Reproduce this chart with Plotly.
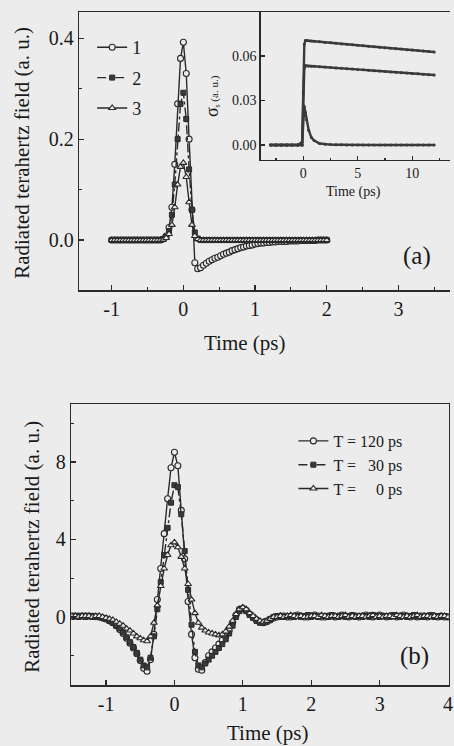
import numpy as np
import plotly.graph_objects as go

W, H = 454, 746
BG = "#ececec"
INK = "#2a2a2a"
FONT = "Liberation Serif, Times New Roman, serif"

# ---------------- Panel (a) data ----------------
t_a = np.round(np.arange(-1.0, 2.0001, 0.04), 2)
a_curve1 = [0.0, 0.0, 0.0, 0.0, 0.0, 0.0, 0.0, 0.0, 0.0, 0.0,
            0.0, 0.0, 0.0, 0.0, 0.0, 0.0, 0.0, 0.0,
            0.002, 0.008, 0.025, 0.065, 0.150, 0.270, 0.360, 0.392, 0.330, 0.200,
            0.060, -0.045, -0.057, -0.055, -0.050, -0.046, -0.042, -0.039, -0.036, -0.034,
            -0.031, -0.028, -0.026, -0.024, -0.021, -0.019, -0.017, -0.015, -0.014, -0.012,
            -0.011, -0.010, -0.008, -0.007, -0.006, -0.006, -0.005, -0.005, -0.004, -0.004,
            -0.003, -0.003, -0.003, -0.003, -0.002, -0.002, -0.002, -0.002, -0.001, -0.001,
            -0.001, -0.001, -0.001, -0.001, 0.0, 0.0, 0.0, 0.0]
a_curve2 = [0.0, 0.0, 0.0, 0.0, 0.0, 0.0, 0.0, 0.0, 0.0, 0.0,
            0.0, 0.0, 0.0, 0.0, 0.0, 0.0, 0.0, 0.0,
            0.002, 0.006, 0.018, 0.050, 0.110, 0.200, 0.270, 0.292, 0.240, 0.140,
            0.060, 0.015, 0.003,
            0.0, 0.0, 0.0, 0.0, 0.0, 0.0, 0.0, 0.0, 0.0, 0.0,
            0.0, 0.0, 0.0, 0.0, 0.0, 0.0, 0.0, 0.0, 0.0, 0.0,
            0.0, 0.0, 0.0, 0.0, 0.0, 0.0, 0.0, 0.0, 0.0, 0.0,
            0.0, 0.0, 0.0, 0.0, 0.0, 0.0, 0.0, 0.0, 0.0, 0.0,
            0.0, 0.0, 0.0, 0.0, 0.0]
a_curve3 = [0.0, 0.0, 0.0, 0.0, 0.0, 0.0, 0.0, 0.0, 0.0, 0.0,
            0.0, 0.0, 0.0, 0.0, 0.0, 0.0, 0.0, 0.0,
            0.001, 0.004, 0.012, 0.030, 0.065, 0.110, 0.145, 0.153, 0.125, 0.075,
            0.030, 0.008, 0.002,
            0.0, 0.0, 0.0, 0.0, 0.0, 0.0, 0.0, 0.0, 0.0, 0.0,
            0.0, 0.0, 0.0, 0.0, 0.0, 0.0, 0.0, 0.0, 0.0, 0.0,
            0.0, 0.0, 0.0, 0.0, 0.0, 0.0, 0.0, 0.0, 0.0, 0.0,
            0.0, 0.0, 0.0, 0.0, 0.0, 0.0, 0.0, 0.0, 0.0, 0.0,
            0.0, 0.0, 0.0, 0.0, 0.0]
a_names = ["1", "2", "3"]

# ---------------- Inset data ----------------
inset_t = [-3.0, -2.5, -2.0, -1.5, -1.0, -0.5, -0.1, 0.0, 0.1, 0.2, 0.3, 0.5, 0.75, 1.0,
           1.5, 2.0, 2.5, 3.0, 3.5, 4.0, 4.5, 5.0, 5.5, 6.0, 6.5, 7.0, 7.5, 8.0, 8.5,
           9.0, 9.5, 10.0, 10.5, 11.0, 11.5, 12.0]
inset_upper = [0.0, 0.0, 0.0, 0.0, 0.0, 0.0, 0.0, 0.035, 0.068, 0.0705, 0.0705, 0.0703,
               0.0702, 0.0700, 0.0696, 0.0692, 0.0689, 0.0686, 0.0682, 0.0679, 0.0676,
               0.0673, 0.0669, 0.0666, 0.0663, 0.0660, 0.0656, 0.0653, 0.0650, 0.0647,
               0.0643, 0.0640, 0.0637, 0.0634, 0.0630, 0.0627]
inset_middle = [0.0, 0.0, 0.0, 0.0, 0.0, 0.0, 0.0, 0.027, 0.052, 0.0535, 0.0534, 0.0533,
                0.0532, 0.0531, 0.0528, 0.0526, 0.0523, 0.0520, 0.0518, 0.0515, 0.0512,
                0.0510, 0.0507, 0.0504, 0.0501, 0.0499, 0.0496, 0.0493, 0.0491, 0.0488,
                0.0485, 0.0483, 0.0480, 0.0477, 0.0474, 0.0472]
inset_lower = [0.0, 0.0, 0.0, 0.0, 0.0, 0.0, 0.002, 0.020, 0.026, 0.022, 0.017, 0.010,
               0.005, 0.003, 0.001, 0.0005, 0.0003, 0.0002, 0.0001, 0.0, 0.0, 0.0, 0.0,
               0.0, 0.0, 0.0, 0.0, 0.0, 0.0, 0.0, 0.0, 0.0, 0.0, 0.0, 0.0, 0.0]

# ---------------- Panel (b) data ----------------
t_b = np.round(np.arange(-1.5, 4.0001, 0.05), 2)
b_T120 = [0.05, 0.05, 0.05, 0.05, 0.05, 0.05, 0.03, 0.02, 0.0, -0.05,
          -0.10, -0.20, -0.30, -0.45, -0.65, -0.85, -1.10, -1.35, -1.60, -1.90,
          -2.25, -2.65, -2.80, -2.20, -0.90, 0.90, 2.50, 4.30, 6.10, 7.70,
          8.50, 7.80, 5.50, 3.00, 0.80, -0.90, -2.10, -2.70, -2.75, -2.35,
          -2.00, -1.80, -1.60, -1.40, -1.20, -1.00, -0.70, -0.30, 0.10, 0.40,
          0.45, 0.35, 0.15, 0.0, -0.15, -0.25, -0.30, -0.25, -0.15, -0.05,
          0.0, 0.05, 0.05, 0.0, 0.0, 0.05, 0.1, 0.05, 0.0, 0.0,
          0.05, 0.1, 0.05, 0.0, 0.0, 0.05, 0.05, 0.0, 0.05, 0.1,
          0.05, 0.0, 0.05, 0.05, 0.0, 0.05, 0.1, 0.05, 0.0, 0.05,
          0.1, 0.05, 0.0, 0.05, 0.05, 0.0, 0.05, 0.1, 0.05, 0.0,
          0.05, 0.0, 0.05, 0.05, 0.0, 0.05, 0.05, 0.0, 0.05, 0.0,
          0.0]
b_T30 = [0.0, 0.05, 0.0, 0.05, 0.0, 0.05, 0.0, 0.0, 0.0, -0.05,
         -0.10, -0.20, -0.30, -0.45, -0.60, -0.80, -1.05, -1.30, -1.55, -1.85,
         -2.20, -2.50, -2.60, -2.10, -1.00, 0.40, 1.80, 3.20, 4.60, 5.90,
         6.80, 6.70, 5.30, 3.40, 1.40, -0.40, -1.80, -2.50, -2.60, -2.40,
         -2.20, -2.00, -1.80, -1.60, -1.40, -1.15, -0.85, -0.45, 0.0, 0.30,
         0.40, 0.30, 0.10, -0.05, -0.20, -0.30, -0.30, -0.20, -0.10, 0.0,
         0.05, 0.0, 0.0, 0.05, 0.05, 0.0, 0.05, 0.0, 0.05, 0.1,
         0.0, 0.05, 0.0, 0.05, 0.05, 0.0, 0.1, 0.05, 0.0, 0.05,
         0.0, 0.05, 0.1, 0.0, 0.05, 0.0, 0.05, 0.0, 0.1, 0.05,
         0.0, 0.05, 0.05, 0.0, 0.1, 0.05, 0.0, 0.05, 0.0, 0.05,
         0.1, 0.05, 0.0, 0.0, 0.05, 0.1, 0.0, 0.05, 0.0, 0.05,
         0.0]
b_T0 = [0.05, 0.05, 0.0, 0.05, 0.05, 0.05, 0.0, 0.05, 0.05, 0.0,
        -0.05, -0.10, -0.15, -0.25, -0.35, -0.45, -0.60, -0.70, -0.85, -1.00,
        -1.10, -1.20, -1.25, -1.00, -0.30, 0.60, 1.60, 2.50, 3.20, 3.70,
        3.85, 3.60, 3.10, 2.50, 1.70, 0.90, 0.20, -0.30, -0.55, -0.70,
        -0.80, -0.85, -0.90, -0.95, -0.90, -0.75, -0.50, -0.20, 0.15, 0.40,
        0.50, 0.40, 0.20, 0.05, -0.10, -0.20, -0.25, -0.20, -0.10, 0.0,
        0.0, 0.05, 0.0, 0.05, 0.1, 0.05, 0.0, 0.05, 0.0, 0.0,
        0.05, 0.05, 0.0, 0.1, 0.05, 0.0, 0.05, 0.05, 0.0, 0.05,
        0.1, 0.0, 0.05, 0.0, 0.05, 0.05, 0.0, 0.05, 0.1, 0.0,
        0.05, 0.0, 0.05, 0.05, 0.0, 0.1, 0.05, 0.0, 0.05, 0.0,
        0.05, 0.1, 0.0, 0.05, 0.05, 0.0, 0.05, 0.0, 0.05, 0.05,
        0.0]
b_names = ["T = 120 ps", "T =\u00a0\u00a0\u00a030 ps", "T =\u00a0\u00a0\u00a0\u00a0\u00a00 ps"]

assert len(a_curve1) == len(t_a) == len(a_curve2) == len(a_curve3)
assert len(b_T120) == len(t_b) == len(b_T30) == len(b_T0)
assert len(inset_t) == len(inset_upper) == len(inset_middle) == len(inset_lower)


def xp(px):
    return px / W


def yp(py):
    return 1 - py / H


styles = [
    dict(symbol="circle", color=BG, lw=1.1, dash="solid", size=6),
    dict(symbol="square", color="#3a3a3a", lw=1.0, dash="dashdot", size=5),
    dict(symbol="triangle-up", color=BG, lw=1.1, dash="solid", size=6),
]

fig = go.Figure()

for ys, name, st in zip([a_curve1, a_curve2, a_curve3], a_names, styles):
    fig.add_trace(go.Scatter(
        x=t_a, y=ys, name=name, mode="lines+markers", xaxis="x", yaxis="y",
        legend="legend", legendgroup="a" + name,
        line=dict(color=INK, width=1.4, dash=st["dash"]),
        marker=dict(symbol=st["symbol"], size=st["size"], color=st["color"],
                    line=dict(color=INK, width=st["lw"]))))

for ys in [inset_upper, inset_middle, inset_lower]:
    fig.add_trace(go.Scatter(
        x=inset_t, y=ys, mode="lines+markers", xaxis="x3", yaxis="y3", showlegend=False,
        line=dict(color="#3a3a3a", width=2.4),
        marker=dict(symbol="circle", size=3, color="#3a3a3a")))

for ys, name, st in zip([b_T120, b_T30, b_T0], b_names, styles):
    fig.add_trace(go.Scatter(
        x=t_b, y=ys, name=name, mode="lines+markers", xaxis="x2", yaxis="y2",
        legend="legend2",
        line=dict(color=INK, width=1.4, dash=st["dash"]),
        marker=dict(symbol=st["symbol"], size=st["size"], color=st["color"],
                    line=dict(color=INK, width=st["lw"]))))

axis_common = dict(showgrid=False, zeroline=False, showline=True, linecolor=INK,
                   linewidth=1.5, ticks="inside", tickcolor=INK, tickwidth=1.2,
                   ticklabeloverflow="allow",
                   tickfont=dict(family=FONT, size=20, color="#1a1a1a"))
small_tick = dict(family=FONT, size=14, color="#1a1a1a")

fig.update_layout(
    width=W, height=H, autosize=False,
    margin=dict(l=0, r=0, t=0, b=0),
    paper_bgcolor=BG, plot_bgcolor=BG,
    font=dict(family=FONT, color="#1a1a1a"),
    xaxis=dict(domain=[xp(80), 1.0], range=[-1.452, 3.72], anchor="y",
               tickvals=[-1, 0, 1, 2, 3], ticktext=["-1", "0", "1", "2", "3"],
               ticklen=5, mirror=True,
               minor=dict(dtick=0.5, tick0=0, ticks="inside", ticklen=3, tickcolor=INK),
               **axis_common),
    yaxis=dict(domain=[yp(290), yp(12)], range=[-0.099, 0.452], anchor="x",
               tickvals=[0.0, 0.2, 0.4], ticktext=["0.0", "0.2", "0.4"],
               ticklen=5, mirror=False,
               minor=dict(dtick=0.1, tick0=0, ticks="inside", ticklen=3, tickcolor=INK),
               **axis_common),
    xaxis3=dict(domain=[xp(263), 1.0], range=[-3.9, 13.45], anchor="y3",
                tickvals=[0, 5, 10], ticktext=["0", "5", "10"], ticklen=4,
                minor=dict(dtick=2.5, tick0=0, ticks="inside", ticklen=2, tickcolor=INK),
                **{**axis_common, "tickfont": small_tick, "linewidth": 1.3}),
    yaxis3=dict(domain=[yp(160), yp(12)], range=[-0.0101, 0.0897], anchor="x3",
                tickvals=[0.0, 0.03, 0.06], ticktext=["0.00", "0.03", "0.06"], ticklen=4,
                **{**axis_common, "tickfont": small_tick, "linewidth": 1.3}),
    xaxis2=dict(domain=[xp(72), xp(452.7)], range=[-1.507, 4.01], anchor="y2",
                tickvals=[-1, 0, 1, 2, 3, 4], ticktext=["-1", "0", "1", "2", "3", "4"],
                ticklen=5, mirror=True, **axis_common),
    yaxis2=dict(domain=[yp(685), yp(404)], range=[-3.51, 10.99], anchor="x2",
                tickvals=[0, 4, 8], ticktext=["0", "4", "8"], ticklen=5, mirror=True,
                minor=dict(dtick=2, tick0=0, ticks="inside", ticklen=3, tickcolor=INK),
                **axis_common),
    legend=dict(x=xp(93), y=yp(29), xanchor="left", yanchor="top",
                bgcolor="rgba(0,0,0,0)", font=dict(family=FONT, size=18, color="#1a1a1a"),
                tracegroupgap=4, itemwidth=30),
    legend2=dict(x=xp(296), y=yp(424), xanchor="left", yanchor="top",
                 bgcolor="rgba(0,0,0,0)", font=dict(family=FONT, size=16, color="#1a1a1a"),
                 itemwidth=30),
    showlegend=True,
)

ann = [
    dict(text="Radiated terahertz field (a. u.)", x=xp(22), y=yp(153), textangle=-90,
         font=dict(size=21)),
    dict(text="Time (ps)", x=xp(247), y=yp(343), font=dict(size=21)),
    dict(text="Time (ps)", x=xp(357), y=yp(192), font=dict(size=14)),
    dict(text="<span style='font-size:18px'>σ</span><sub>s</sub> (a. u.)", x=xp(214),
         y=yp(96), textangle=-90, font=dict(size=11)),
    dict(text="(a)", x=xp(421), y=yp(256), font=dict(size=25)),
    dict(text="Radiated terahertz field (a. u.)", x=xp(32), y=yp(547), textangle=-90,
         font=dict(size=21)),
    dict(text="Time (ps)", x=xp(270), y=yp(733), font=dict(size=21)),
    dict(text="(b)", x=xp(418), y=yp(656), font=dict(size=25)),
]
for a in ann:
    a.update(xref="paper", yref="paper", showarrow=False, xanchor="center", yanchor="middle")
    a["font"] = dict(family=FONT, color="#1a1a1a", **a["font"])
fig.update_layout(annotations=ann)

fig.write_html("out.html", config={"displayModeBar": False, "staticPlot": True},
               post_script="document.body.style.margin='0';document.body.style.padding='0';"
                           "document.body.style.overflow='hidden';")
